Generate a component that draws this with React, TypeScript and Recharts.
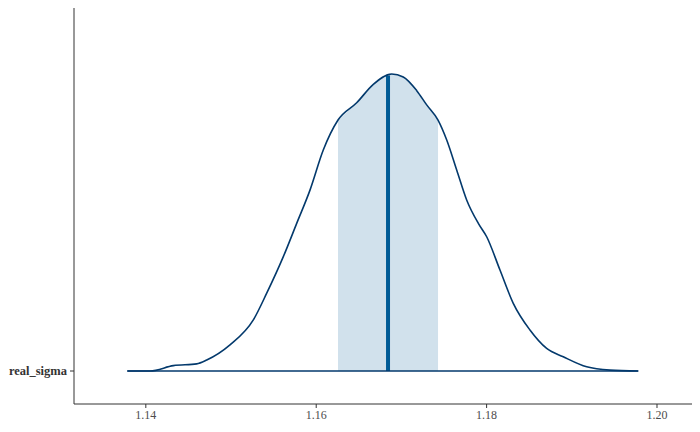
import { ComposedChart, Area, Line, XAxis, YAxis, ReferenceLine } from "recharts"

// posterior density of real_sigma (scaled so the peak is ~1)
const sigmaValues = [
  1.13783, 1.14049, 1.14323, 1.14597, 1.14715, 1.14988, 1.15262, 1.15419, 1.15614,
  1.15771, 1.15927, 1.16083, 1.16256, 1.16475, 1.1667, 1.16886, 1.17022, 1.1718,
  1.17297, 1.1743, 1.17532, 1.17649, 1.17766, 1.17903, 1.18001, 1.18157, 1.18313,
  1.18509, 1.18705, 1.189, 1.19175, 1.19448, 1.1978,
]
const densityValues = [
  0, 0, 0.018, 0.024, 0.037, 0.088, 0.172, 0.262, 0.385,
  0.497, 0.609, 0.744, 0.845, 0.903, 0.965, 1.0, 0.99, 0.944,
  0.896, 0.845, 0.778, 0.677, 0.576, 0.497, 0.452, 0.34, 0.228,
  0.138, 0.076, 0.048, 0.014, 0.003, 0,
]

const intervalLow = 1.16256
const intervalHigh = 1.1743
const median = 1.16843
const medianDensity = 0.995

const parameterNames = ["real_sigma"]
const xTicks = [1.14, 1.16, 1.18, 1.2]

const rows = sigmaValues.map((x, i) => ({
  x,
  density: densityValues[i],
  band: x >= intervalLow && x <= intervalHigh ? densityValues[i] : null,
  base: 0,
}))

const serif = "Liberation Serif"

export default function App() {
  return (
    <div
      style={{
        position: "absolute",
        left: 0,
        top: 0,
        width: 700,
        height: 432,
        background: "#fff",
        fontFamily: serif,
      }}
    >
      <ComposedChart width={700} height={432} data={rows} margin={{ top: 8, right: 8, left: 0, bottom: 0 }}>
        <XAxis
          dataKey="x"
          type="number"
          domain={[1.13157, 1.20411]}
          ticks={xTicks}
          allowDataOverflow
          tickFormatter={(v: number) => v.toFixed(2)}
          height={28}
          stroke="#333"
          tickSize={4}
          tickMargin={2}
          tick={{ fill: "#4d4d4d", fontSize: 12, fontFamily: serif }}
        />
        <YAxis
          type="number"
          domain={[-0.1111, 1.2222]}
          ticks={[0]}
          allowDataOverflow
          width={74}
          stroke="#333"
          tickSize={4}
          tickMargin={3}
          tickFormatter={() => parameterNames[0]}
          tick={{ fill: "#333", fontSize: 12.5, fontWeight: "bold", fontFamily: serif }}
        />
        <Area
          dataKey="band"
          type="monotone"
          fill="#d1e1ec"
          fillOpacity={1}
          stroke="none"
          baseValue={0}
          isAnimationActive={false}
        />
        <ReferenceLine
          segment={[{ x: median, y: 0 }, { x: median, y: medianDensity }]}
          stroke="#005b96"
          strokeWidth={4}
        />
        <Line
          dataKey="density"
          type="monotone"
          stroke="#03396c"
          strokeWidth={1.6}
          dot={false}
          isAnimationActive={false}
        />
        <Line
          dataKey="base"
          type="linear"
          stroke="#03396c"
          strokeWidth={1.6}
          dot={false}
          isAnimationActive={false}
        />
      </ComposedChart>
    </div>
  )
}
